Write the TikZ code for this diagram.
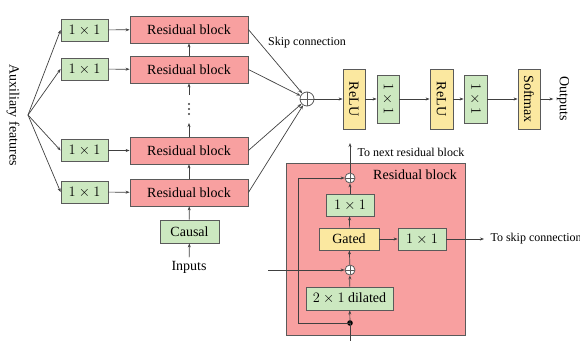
\documentclass[tikz,border=0pt]{standalone}
\usepackage{fontspec}
\setmainfont{Liberation Serif}
\usetikzlibrary{arrows.meta}
\definecolor{gfill}{RGB}{204,232,192}
\definecolor{rfill}{RGB}{248,160,160}
\definecolor{yfill}{RGB}{251,232,160}
\definecolor{edge}{RGB}{90,90,90}
\tikzset{
  box/.style={draw=edge, line width=0.8pt, inner sep=0pt, minimum width=#1},
  gbox/.style={box=#1, fill=gfill, minimum height=22pt},
  rbox/.style={box=118pt, fill=rfill, minimum height=27pt},
  ybox/.style={draw=edge, line width=0.8pt, fill=yfill, inner sep=0pt, minimum width=#1},
  vbox/.style={draw=edge, line width=0.8pt, inner sep=0pt, minimum width=22pt, rotate=-90},
  big/.style={font=\fontsize{14}{16}\selectfont},
  small/.style={font=\fontsize{12}{14}\selectfont},
  sumc/.style={circle, draw=edge, line width=0.8pt, fill=white, minimum size=#1, inner sep=0pt,
    path picture={\draw[edge, line width=0.7pt] (path picture bounding box.north) -- (path picture bounding box.south)
      (path picture bounding box.west) -- (path picture bounding box.east);}},
  conn/.style={draw=black!75, line width=0.7pt},
  arr/.style={conn, -{Stealth[length=4pt,width=3pt]}},
}
\begin{document}
\begin{tikzpicture}[x=1pt,y=-1pt]
\useasboundingbox (0,0) rectangle (580,340);
\clip (0,0) rectangle (580,340);

% left stack
\node[big, rotate=-90] (aux) at (13,115) {Auxiliary features};
\coordinate (fan) at (28,115);
\node[gbox=47pt, big] (c1) at (84.5,30) {$1\times1$};
\node[gbox=47pt, big] (c2) at (84.5,69) {$1\times1$};
\node[gbox=47pt, big] (c3) at (84.5,150.5) {$1\times1$};
\node[gbox=47pt, big] (c4) at (84.5,192) {$1\times1$};
\node[rbox, big] (r1) at (189,29.5) {Residual block};
\node[rbox, big] (r2) at (189,69.5) {Residual block};
\node[rbox, big] (r3) at (189,150.5) {Residual block};
\node[rbox, big] (r4) at (189,192.5) {Residual block};
\node[gbox=59pt, minimum height=23pt, big] (causal) at (189.5,231.5) {Causal};
\node[big] (inputs) at (189,267) {Inputs};
\coordinate (dtop) at (189,95);
\coordinate (dbot) at (189,123);
\foreach \yy in {104,109,114} \fill[black!75] (189,\yy) circle (1.2pt);

\foreach \c in {c1,c2,c3,c4} \draw[arr] (fan) -- (\c.west);
\draw[arr] (c1) -- (r1);
\draw[arr] (c2) -- (r2);
\draw[arr] (c3) -- (r3);
\draw[arr] (c4) -- (r4);
\draw[arr] (inputs) -- (causal);
\draw[arr] (causal) -- (r4);
\draw[arr] (r4) -- (r3);
\draw[arr] (r3) -- (dbot);
\draw[arr] (dtop) -- (r2);
\draw[arr] (r2) -- (r1);

% output chain
\node[sumc=14pt] (sum) at (307,99) {};
\node[small] (skip) at (307,43) {Skip connection};
\foreach \r in {r1,r2,r3,r4} \draw[arr] (\r.east) -- (sum);
\node[ybox=60pt, minimum height=22pt, big, rotate=-90] (relu1) at (354,99) {ReLU};
\node[gbox=48pt, minimum height=22pt, big, rotate=-90] (m1) at (388,99) {$1\times1$};
\node[ybox=60pt, minimum height=23pt, big, rotate=-90] (relu2) at (441.5,99) {ReLU};
\node[gbox=48pt, minimum height=23pt, big, rotate=-90] (m2) at (475.5,99) {$1\times1$};
\node[ybox=60pt, minimum height=22pt, big, rotate=-90] (soft) at (529,99) {Softmax};
\node[big, rotate=-90] (outputs) at (563,99) {Outputs};
\draw[arr] (sum) -- (relu1);
\draw[arr] (relu1) -- (m1);
\draw[arr] (m1) -- (relu2);
\draw[arr] (relu2) -- (m2);
\draw[arr] (m2) -- (soft);
\draw[arr] (soft) -- (outputs);

% residual block detail
\node[draw=edge, line width=0.8pt, fill=rfill, minimum width=179pt, minimum height=172pt, inner sep=0pt] (rbig) at (375.5,249) {};
\node[big] (rlabel) at (415,175) {Residual block};
\node[sumc=10pt] (tsum) at (350,178) {};
\node[gbox=48pt, big] (b11) at (350,205) {$1\times1$};
\node[ybox=60pt, minimum height=22pt, big] (gated) at (349,239) {Gated};
\node[gbox=48pt, big] (b12) at (422,239) {$1\times1$};
\node[sumc=10pt] (lsum) at (350,270) {};
\node[gbox=87pt, minimum height=23pt, big] (dil) at (349.5,298.5) {$2\times1$ dilated};
\coordinate (dot) at (350,323);
\fill[black] (dot) circle (2.8pt);
\coordinate (bot) at (350,345);
\coordinate (top) at (350,143);
\coordinate (lin) at (268,270);
\coordinate (skend) at (484,239);
\coordinate (lc1) at (298,323);
\coordinate (lc2) at (298,178);
\node[small, anchor=west] (tonext) at (354,152) {To next residual block};
\node[small, anchor=west] (toskip) at (487,239) {To skip connection};

\draw[conn] (bot) -- (dot);
\draw[arr] (dot) -- (dil);
\draw[arr] (dil) -- (lsum);
\draw[arr] (lsum) -- (gated);
\draw[arr] (gated) -- (b11);
\draw[arr] (b11) -- (tsum);
\draw[arr] (tsum) -- (top);
\draw[arr] (gated) -- (b12);
\draw[arr] (b12) -- (skend);
\draw[arr] (lin) -- (lsum);
\draw[arr] (dot) -- (lc1) -- (lc2) -- (tsum);
\end{tikzpicture}
\end{document}
